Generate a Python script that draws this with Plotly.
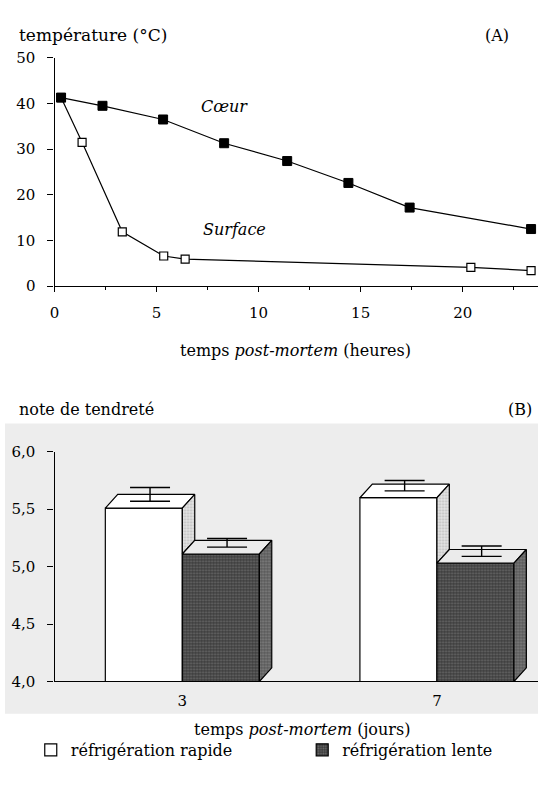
import plotly.graph_objects as go

# ---------------- data ----------------
# Panel A : temperature (°C) vs post-mortem time (hours)
hours_coeur = [0.32, 2.35, 5.32, 8.31, 11.4, 14.4, 17.4, 23.35]
temp_coeur = [41.3, 39.5, 36.5, 31.3, 27.4, 22.6, 17.2, 12.5]
hours_surface = [0.32, 1.35, 3.32, 5.35, 6.4, 20.4, 23.35]
temp_surface = [41.3, 31.5, 11.9, 6.6, 5.9, 4.1, 3.4]

# Panel B : tenderness score vs post-mortem time (days)
days = [3, 7]
day_labels = ["3", "7"]
rapid = [5.51, 5.60]
rapid_err = [0.12, 0.09]
slow = [5.11, 5.03]
slow_err = [0.075, 0.09]
b_tickvals = [4.0, 4.5, 5.0, 5.5, 6.0]
b_ticktext = ["4,0", "4,5", "5,0", "5,5", "6,0"]

# ---------------- style ----------------
W, H = 538, 798
FONT = "DejaVu Serif"
BAR_W = 1.21       # bar width in days
DX = 0.195         # 3-D depth offset (x, days)
DY = 0.119         # 3-D depth offset (y, score units)
Y0 = 4.0
LW = 1.2

def py(px_from_top):
    return (H - px_from_top) / H

fig = go.Figure()

# ---------------- panel A ----------------
fig.add_trace(go.Scatter(
    x=hours_coeur, y=temp_coeur, mode="lines+markers", showlegend=False,
    line=dict(color="black", width=LW),
    marker=dict(symbol="square", size=9, color="black", line=dict(color="black", width=1)),
    xaxis="x", yaxis="y"))
fig.add_trace(go.Scatter(
    x=hours_surface, y=temp_surface, mode="lines+markers", showlegend=False,
    line=dict(color="black", width=LW),
    marker=dict(symbol="square", size=8, color="white", line=dict(color="black", width=1.2)),
    xaxis="x", yaxis="y"))
# redraw the shared first point filled
fig.add_trace(go.Scatter(
    x=hours_coeur[:1], y=temp_coeur[:1], mode="markers", showlegend=False,
    marker=dict(symbol="square", size=9, color="black"), xaxis="x", yaxis="y"))

# ---------------- panel B ----------------
PAT_DARK = dict(shape=".", fgcolor="#a0a0a0", bgcolor="#3c3c3c", size=3, solidity=0.35)
PAT_SIDE_DARK = dict(shape=".", fgcolor="#b0b0b0", bgcolor="#5a5a5a", size=3, solidity=0.35)
PAT_SIDE_LIGHT = dict(shape=".", fgcolor="#8a8a8a", bgcolor="#e4e4e4", size=3, solidity=0.3)

fig.add_trace(go.Bar(
    x=days, y=rapid, width=BAR_W, offset=-BAR_W, name="réfrigération rapide",
    marker=dict(color="white", line=dict(color="black", width=LW)),
    legend="legend", xaxis="x2", yaxis="y2"))
fig.add_trace(go.Bar(
    x=days, y=slow, width=BAR_W, offset=0, name="réfrigération lente",
    marker=dict(color="#3c3c3c", line=dict(color="black", width=LW), pattern=PAT_DARK),
    legend="legend2", xaxis="x2", yaxis="y2"))

def face(xs, ys, fillcolor, pattern=None):
    kw = dict(x=xs + [xs[0]], y=ys + [ys[0]], mode="lines", fill="toself",
              fillcolor=fillcolor, line=dict(color="black", width=LW),
              showlegend=False, hoverinfo="skip", xaxis="x2", yaxis="y2")
    if pattern:
        kw["fillpattern"] = pattern
    fig.add_trace(go.Scatter(**kw))

for d, vr, vs in zip(days, rapid, slow):
    x0, x1, x2 = d - BAR_W, d, d + BAR_W
    # rapid: top face and visible part of side face
    face([x0, x1, x1 + DX, x0 + DX], [vr, vr, vr + DY, vr + DY], "white")
    face([x1, x1 + DX, x1 + DX, x1], [vs, vs + DY, vr + DY, vr], "#e4e4e4", PAT_SIDE_LIGHT)
    # slow: top face and side face
    face([x1, x2, x2 + DX, x1 + DX], [vs, vs, vs + DY, vs + DY], "#ebebeb")
    face([x2, x2 + DX, x2 + DX, x2], [Y0, Y0 + DY, vs + DY, vs], "#5a5a5a", PAT_SIDE_DARK)

# error bars (from the middle of each top face)
fig.add_trace(go.Scatter(
    x=[d - BAR_W / 2 + DX / 2 for d in days], y=[v + DY / 2 for v in rapid],
    mode="markers", marker=dict(size=1, color="rgba(0,0,0,0)"), showlegend=False,
    error_y=dict(type="data", array=rapid_err, arrayminus=[0] * len(days), symmetric=False,
                 width=20, thickness=1.4, color="black"),
    hoverinfo="skip", xaxis="x2", yaxis="y2"))
fig.add_trace(go.Scatter(
    x=[d + BAR_W / 2 + DX / 2 for d in days], y=[v + DY / 2 for v in slow],
    mode="markers", marker=dict(size=1, color="rgba(0,0,0,0)"), showlegend=False,
    error_y=dict(type="data", array=slow_err, arrayminus=[0] * len(days), symmetric=False,
                 width=20, thickness=1.4, color="black"),
    hoverinfo="skip", xaxis="x2", yaxis="y2"))

tickfont = dict(family=FONT, size=15, color="black")
axis_common = dict(showgrid=False, zeroline=False, showline=True, linecolor="black",
                   linewidth=LW, tickcolor="black", tickfont=tickfont)
legend_common = dict(orientation="h", xanchor="left", y=py(758), yanchor="middle",
                     font=dict(family=FONT, size=16, color="black"),
                     bgcolor="rgba(0,0,0,0)", borderwidth=0)

fig.update_layout(
    width=W, height=H,
    margin=dict(l=0, r=0, t=0, b=0),
    paper_bgcolor="white", plot_bgcolor="rgba(0,0,0,0)",
    barmode="overlay",
    font=dict(family=FONT, size=16, color="black"),
    xaxis=dict(domain=[50 / W, 1], range=[0, 23.69], tickvals=[0, 5, 10, 15, 20],
               ticks="outside", ticklen=5, tickwidth=1, ticklabelstandoff=8,
               minor=dict(dtick=2.5, tick0=0, ticks="outside", ticklen=3, tickcolor="black"),
               anchor="y", **axis_common),
    yaxis=dict(domain=[py(283.5), py(50)], range=[0, 50], tickvals=[0, 10, 20, 30, 40, 50],
               ticks="outside", ticklen=6, tickwidth=1, ticklabelstandoff=9,
               anchor="x", **axis_common),
    xaxis2=dict(domain=[50 / W, 1], range=[0.992, 8.588], tickvals=days, ticktext=day_labels,
                ticks="", ticklabelstandoff=5, anchor="y2", **axis_common),
    yaxis2=dict(domain=[py(688), py(453)], range=[4.0, 6.0], tickvals=b_tickvals,
                ticktext=b_ticktext, ticks="outside", ticklen=6, tickwidth=1,
                ticklabelstandoff=9, anchor="x2", **axis_common),
    legend=dict(x=26 / W, **legend_common),
    legend2=dict(x=300 / W, **legend_common),
    shapes=[dict(type="rect", xref="paper", yref="paper", x0=0, x1=1,
                 y0=py(721), y1=py(424), fillcolor="#ededed", line=dict(width=0),
                 layer="below")],
    annotations=[
        dict(text="température (°C)", xref="paper", yref="paper", x=12 / W, y=py(27),
             xanchor="left", yanchor="middle", showarrow=False, font=dict(size=17)),
        dict(text="(A)", xref="paper", yref="paper", x=497 / W, y=py(27),
             xanchor="center", yanchor="middle", showarrow=False, font=dict(size=16)),
        dict(text="temps <i>post-mortem</i> (heures)", xref="paper", yref="paper",
             x=293 / W, y=py(349), xanchor="center", yanchor="middle", showarrow=False),
        dict(text="<i>Cœur</i>", xref="x", yref="y", x=8.35, y=39.3, showarrow=False,
             font=dict(size=16)),
        dict(text="<i>Surface</i>", xref="x", yref="y", x=8.8, y=12.3, showarrow=False,
             font=dict(size=16)),
        dict(text="note de tendreté", xref="paper", yref="paper", x=12 / W, y=py(410),
             xanchor="left", yanchor="middle", showarrow=False),
        dict(text="(B)", xref="paper", yref="paper", x=520 / W, y=py(410),
             xanchor="center", yanchor="middle", showarrow=False),
        dict(text="temps <i>post-mortem</i> (jours)", xref="paper", yref="paper",
             x=300 / W, y=py(737), xanchor="center", yanchor="middle", showarrow=False),
    ],
)

fig.write_html(
    "out.html",
    config={"displayModeBar": False, "responsive": False},
    post_script="document.body.style.margin='0';document.body.style.overflow='hidden';"
                "document.documentElement.style.overflow='hidden';",
)
